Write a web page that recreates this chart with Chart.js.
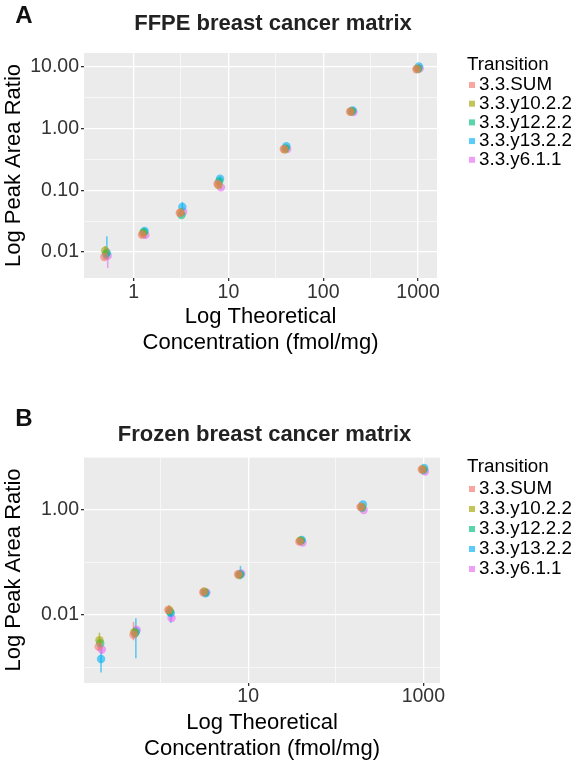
<!DOCTYPE html>
<html>
<head>
<meta charset="utf-8">
<script src="https://cdn.jsdelivr.net/npm/chart.js@4.4.1/dist/chart.umd.min.js"></script>
<style>
html,body{margin:0;padding:0;background:#ffffff;}
canvas{display:block;}
</style>
</head>
<body>
<canvas id="cA" width="583" height="382"></canvas>
<canvas id="cB" width="583" height="382"></canvas>
<script>
// ---------- data ----------
const seriesNames  = ['3.3.SUM', '3.3.y10.2.2', '3.3.y12.2.2', '3.3.y13.2.2', '3.3.y6.1.1'];
const seriesColors = ['#F8766D', '#A3A500', '#00BF7D', '#00B0F6', '#E76BF3'];
const legendTitle  = 'Transition';

// Panel A: FFPE
const ffpeConc = [0.512, 1.28, 3.2, 8, 40, 200, 1000];
const ffpeMean = [
  [0.0083, 0.019, 0.043, 0.128, 0.47, 1.88, 9.2],   // 3.3.SUM
  [0.0105, 0.020, 0.044, 0.122, 0.46, 1.90, 9.4],   // 3.3.y10.2.2
  [0.0092, 0.021, 0.040, 0.140, 0.48, 1.92, 9.3],   // 3.3.y12.2.2
  [0.0098, 0.022, 0.054, 0.155, 0.52, 1.98, 10.2],  // 3.3.y13.2.2
  [0.0087, 0.019, 0.045, 0.112, 0.47, 1.86, 9.5]    // 3.3.y6.1.1
];
const ffpeLow = [
  [0.0075, 0.0175, 0.040, 0.120, 0.45, 1.82, 8.8],
  [0.0090, 0.0185, 0.041, 0.114, 0.44, 1.84, 9.0],
  [0.0080, 0.0190, 0.037, 0.131, 0.46, 1.86, 8.9],
  [0.0075, 0.0205, 0.048, 0.145, 0.50, 1.92, 9.5],
  [0.0055, 0.0165, 0.042, 0.105, 0.45, 1.80, 9.1]
];
const ffpeHigh = [
  [0.0092, 0.0205, 0.046, 0.136, 0.49, 1.94, 9.6],
  [0.0125, 0.0215, 0.047, 0.130, 0.48, 1.96, 9.8],
  [0.0105, 0.0230, 0.043, 0.149, 0.50, 1.98, 9.7],
  [0.0180, 0.0240, 0.065, 0.170, 0.54, 2.04, 11.0],
  [0.0115, 0.0210, 0.048, 0.119, 0.49, 1.92, 9.9]
];
const ffpeXTicks  = [1, 10, 100, 1000];
const ffpeXLabels = ['1', '10', '100', '1000'];
const ffpeYTicks  = [0.01, 0.1, 1, 10];
const ffpeYLabels = ['0.01', '0.10', '1.00', '10.00'];

// Panel B: Frozen
const frozenConc = [0.2048, 0.512, 1.28, 3.2, 8, 40, 200, 1000];
const frozenMean = [
  [0.0025, 0.0042, 0.0125, 0.027, 0.060, 0.25, 1.14, 5.9],
  [0.0033, 0.0047, 0.0125, 0.028, 0.058, 0.26, 1.15, 6.0],
  [0.0029, 0.0045, 0.0115, 0.027, 0.060, 0.26, 1.10, 5.8],
  [0.00145, 0.0048, 0.0109, 0.026, 0.059, 0.27, 1.28, 6.3],
  [0.0022, 0.0052, 0.0088, 0.027, 0.062, 0.24, 1.00, 5.4]
];
const frozenLow = [
  [0.0021, 0.0033, 0.0110, 0.024, 0.055, 0.235, 1.08, 5.6],
  [0.0025, 0.0040, 0.0105, 0.025, 0.053, 0.245, 1.09, 5.7],
  [0.0024, 0.0039, 0.0100, 0.024, 0.055, 0.245, 1.04, 5.5],
  [0.0008, 0.0015, 0.0071, 0.023, 0.048, 0.255, 1.21, 6.0],
  [0.0018, 0.0045, 0.0078, 0.024, 0.057, 0.225, 0.95, 5.1]
];
const frozenHigh = [
  [0.0030, 0.0074, 0.0140, 0.030, 0.065, 0.265, 1.20, 6.2],
  [0.0046, 0.0060, 0.0155, 0.031, 0.063, 0.275, 1.21, 6.3],
  [0.0034, 0.0052, 0.0130, 0.030, 0.065, 0.275, 1.16, 6.1],
  [0.0024, 0.0087, 0.0140, 0.029, 0.086, 0.285, 1.35, 6.5],
  [0.0026, 0.0060, 0.0100, 0.030, 0.067, 0.255, 1.05, 5.7]
];
const frozenXTicks  = [10, 1000];
const frozenXLabels = ['10', '1000'];
const frozenYTicks  = [0.01, 1];
const frozenYLabels = ['0.01', '1.00'];

// ---------- styling / helpers ----------
const FONT = '"Liberation Sans", Arial, Helvetica, sans-serif';
const dodgeLog = [-0.018, -0.009, 0, 0.009, 0.018];   // position dodge (log10 units)
const POINT_ALPHA = 0.6;

function withAlpha(hex, a) {
  const r = parseInt(hex.slice(1,3),16), g = parseInt(hex.slice(3,5),16), b = parseInt(hex.slice(5,7),16);
  return 'rgba(' + r + ',' + g + ',' + b + ',' + a + ')';
}

function buildTicks(majors, min, max) {
  const logs = majors.map(v => Math.log10(v));
  const step = logs.length > 1 ? logs[1] - logs[0] : 1;
  const out = majors.map(v => ({value: v, isMajor: true}));
  for (let k = -1; k < logs.length; k++) {
    out.push({value: Math.pow(10, logs[0] + step * (k + 0.5)), isMajor: false});
  }
  return out.filter(t => t.value >= min && t.value <= max).sort((a, b) => a.value - b.value);
}

const bgPlugin = {
  id: 'panelBg',
  beforeDraw(chart) {
    const a = chart.chartArea, ctx = chart.ctx;
    ctx.save();
    ctx.fillStyle = '#EBEBEB';
    ctx.fillRect(a.left, a.top, a.right - a.left, a.bottom - a.top);
    ctx.restore();
  }
};

const errPlugin = {
  id: 'errbars',
  beforeDatasetsDraw(chart, args, opts) {
    const ctx = chart.ctx, a = chart.chartArea, ys = chart.scales.y;
    ctx.save();
    ctx.beginPath();
    ctx.rect(a.left, a.top, a.right - a.left, a.bottom - a.top);
    ctx.clip();
    ctx.lineWidth = 1.6;
    chart.data.datasets.forEach((ds, s) => {
      const meta = chart.getDatasetMeta(s);
      ctx.strokeStyle = withAlpha(seriesColors[s], 0.6);
      meta.data.forEach((pt, j) => {
        const y1 = ys.getPixelForValue(opts.low[s][j]);
        const y2 = ys.getPixelForValue(opts.high[s][j]);
        ctx.beginPath();
        ctx.moveTo(pt.x, y1);
        ctx.lineTo(pt.x, y2);
        ctx.stroke();
      });
    });
    ctx.restore();
  }
};

const textPlugin = {
  id: 'panelText',
  afterDraw(chart, args, o) {
    const ctx = chart.ctx;
    ctx.save();
    ctx.textBaseline = 'middle';
    ctx.textAlign = 'center';
    ctx.fillStyle = '#111111';
    ctx.font = 'bold 24px ' + FONT;
    ctx.fillText(o.letter, o.letterX, o.letterY);
    ctx.fillStyle = '#222222';
    ctx.font = 'bold 22px ' + FONT;
    ctx.fillText(o.title, o.titleX, o.titleY);
    ctx.textAlign = 'left';
    ctx.fillStyle = '#000000';
    ctx.font = o.legendSize + 'px ' + FONT;
    ctx.fillText(legendTitle, o.legendX, o.legendTitleY);
    seriesNames.forEach((n, i) => {
      const y = o.legendItemY + i * o.legendStep;
      ctx.fillStyle = withAlpha(seriesColors[i], 0.65);
      ctx.fillRect(o.legendX + 2, y - 3, 6, 6);
      ctx.fillStyle = '#000000';
      ctx.fillText(n, o.legendX + 12, y);
    });
    ctx.restore();
  }
};

function makePanel(id, d, L) {
  const datasets = seriesNames.map((name, s) => ({
    label: name,
    data: d.conc.map((c, j) => ({x: c * Math.pow(10, dodgeLog[s]), y: d.mean[s][j]})),
    backgroundColor: withAlpha(seriesColors[s], POINT_ALPHA),
    borderWidth: 0,
    pointRadius: 4.2,
    pointHoverRadius: 4.2
  }));
  const gridOpts = {
    color: '#ffffff',
    lineWidth: c => (c.tick && c.tick.isMajor) ? 1.3 : 0.6,
    tickColor: c => (c.tick && c.tick.isMajor) ? '#333333' : 'rgba(0,0,0,0)',
    tickLength: 3,
    tickWidth: 1.3,
    drawTicks: true
  };
  return new Chart(document.getElementById(id), {
    type: 'scatter',
    data: {datasets},
    plugins: [bgPlugin, errPlugin, textPlugin],
    options: {
      responsive: false,
      animation: false,
      devicePixelRatio: 1,
      layout: {padding: {top: L.top, right: 583 - L.right, left: 0, bottom: 0}},
      plugins: {
        legend: {display: false},
        tooltip: {enabled: false},
        errbars: {low: d.low, high: d.high},
        panelText: L.text
      },
      scales: {
        x: {
          type: 'logarithmic',
          min: L.xmin, max: L.xmax,
          border: {display: false},
          grid: gridOpts,
          afterBuildTicks: sc => { sc.ticks = buildTicks(d.xTicks, L.xmin, L.xmax); },
          afterFit: sc => { sc.height = L.xAxisHeight; },
          ticks: {
            autoSkip: false, maxRotation: 0, padding: L.xTickPad,
            color: '#333333',
            font: {family: FONT, size: 19.5, lineHeight: 1},
            callback: v => { const i = d.xTicks.indexOf(v); return i >= 0 ? d.xLabels[i] : ''; }
          },
          title: {
            display: true,
            text: ['Log Theoretical', 'Concentration (fmol/mg)'],
            color: '#000000',
            font: {family: FONT, size: 22, lineHeight: 1.17},
            padding: {top: 0, bottom: L.xTitlePad}
          }
        },
        y: {
          type: 'logarithmic',
          min: L.ymin, max: L.ymax,
          border: {display: false},
          grid: gridOpts,
          afterBuildTicks: sc => { sc.ticks = buildTicks(d.yTicks, L.ymin, L.ymax); },
          afterFit: sc => { sc.width = L.left; },
          ticks: {
            autoSkip: false, padding: 2,
            color: '#333333',
            font: {family: FONT, size: 19.5, lineHeight: 1},
            callback: v => { const i = d.yTicks.indexOf(v); return i >= 0 ? d.yLabels[i] : ''; }
          },
          title: {
            display: true,
            text: 'Log Peak Area Ratio',
            color: '#000000',
            font: {family: FONT, size: 22, lineHeight: 1.2},
            padding: {top: 1, bottom: 0}
          }
        }
      }
    }
  });
}

makePanel('cA',
  {conc: ffpeConc, mean: ffpeMean, low: ffpeLow, high: ffpeHigh,
   xTicks: ffpeXTicks, xLabels: ffpeXLabels, yTicks: ffpeYTicks, yLabels: ffpeYLabels},
  {top: 53, right: 437, left: 84,
   xmin: Math.pow(10, -0.491), xmax: Math.pow(10, 3.2),
   ymin: Math.pow(10, -2.42), ymax: Math.pow(10, 1.227),
   xAxisHeight: 104, xTickPad: 2, xTitlePad: 26,
   text: {letter: 'A', letterX: 24, letterY: 16, title: 'FFPE breast cancer matrix', titleX: 273, titleY: 24,
          legendX: 467, legendTitleY: 65, legendItemY: 85, legendStep: 18.7, legendSize: 18.8}});

makePanel('cB',
  {conc: frozenConc, mean: frozenMean, low: frozenLow, high: frozenHigh,
   xTicks: frozenXTicks, xLabels: frozenXLabels, yTicks: frozenYTicks, yLabels: frozenYLabels},
  {top: 75, right: 440, left: 84,
   xmin: Math.pow(10, -0.874), xmax: Math.pow(10, 3.19),
   ymin: Math.pow(10, -3.295), ymax: Math.pow(10, 1.01),
   xAxisHeight: 81, xTickPad: 1, xTitlePad: 2,
   text: {letter: 'B', letterX: 24, letterY: 37.5, title: 'Frozen breast cancer matrix', titleX: 264.5, titleY: 53,
          legendX: 467, legendTitleY: 85, legendItemY: 107, legendStep: 20, legendSize: 18.8}});
</script>
</body>
</html>
